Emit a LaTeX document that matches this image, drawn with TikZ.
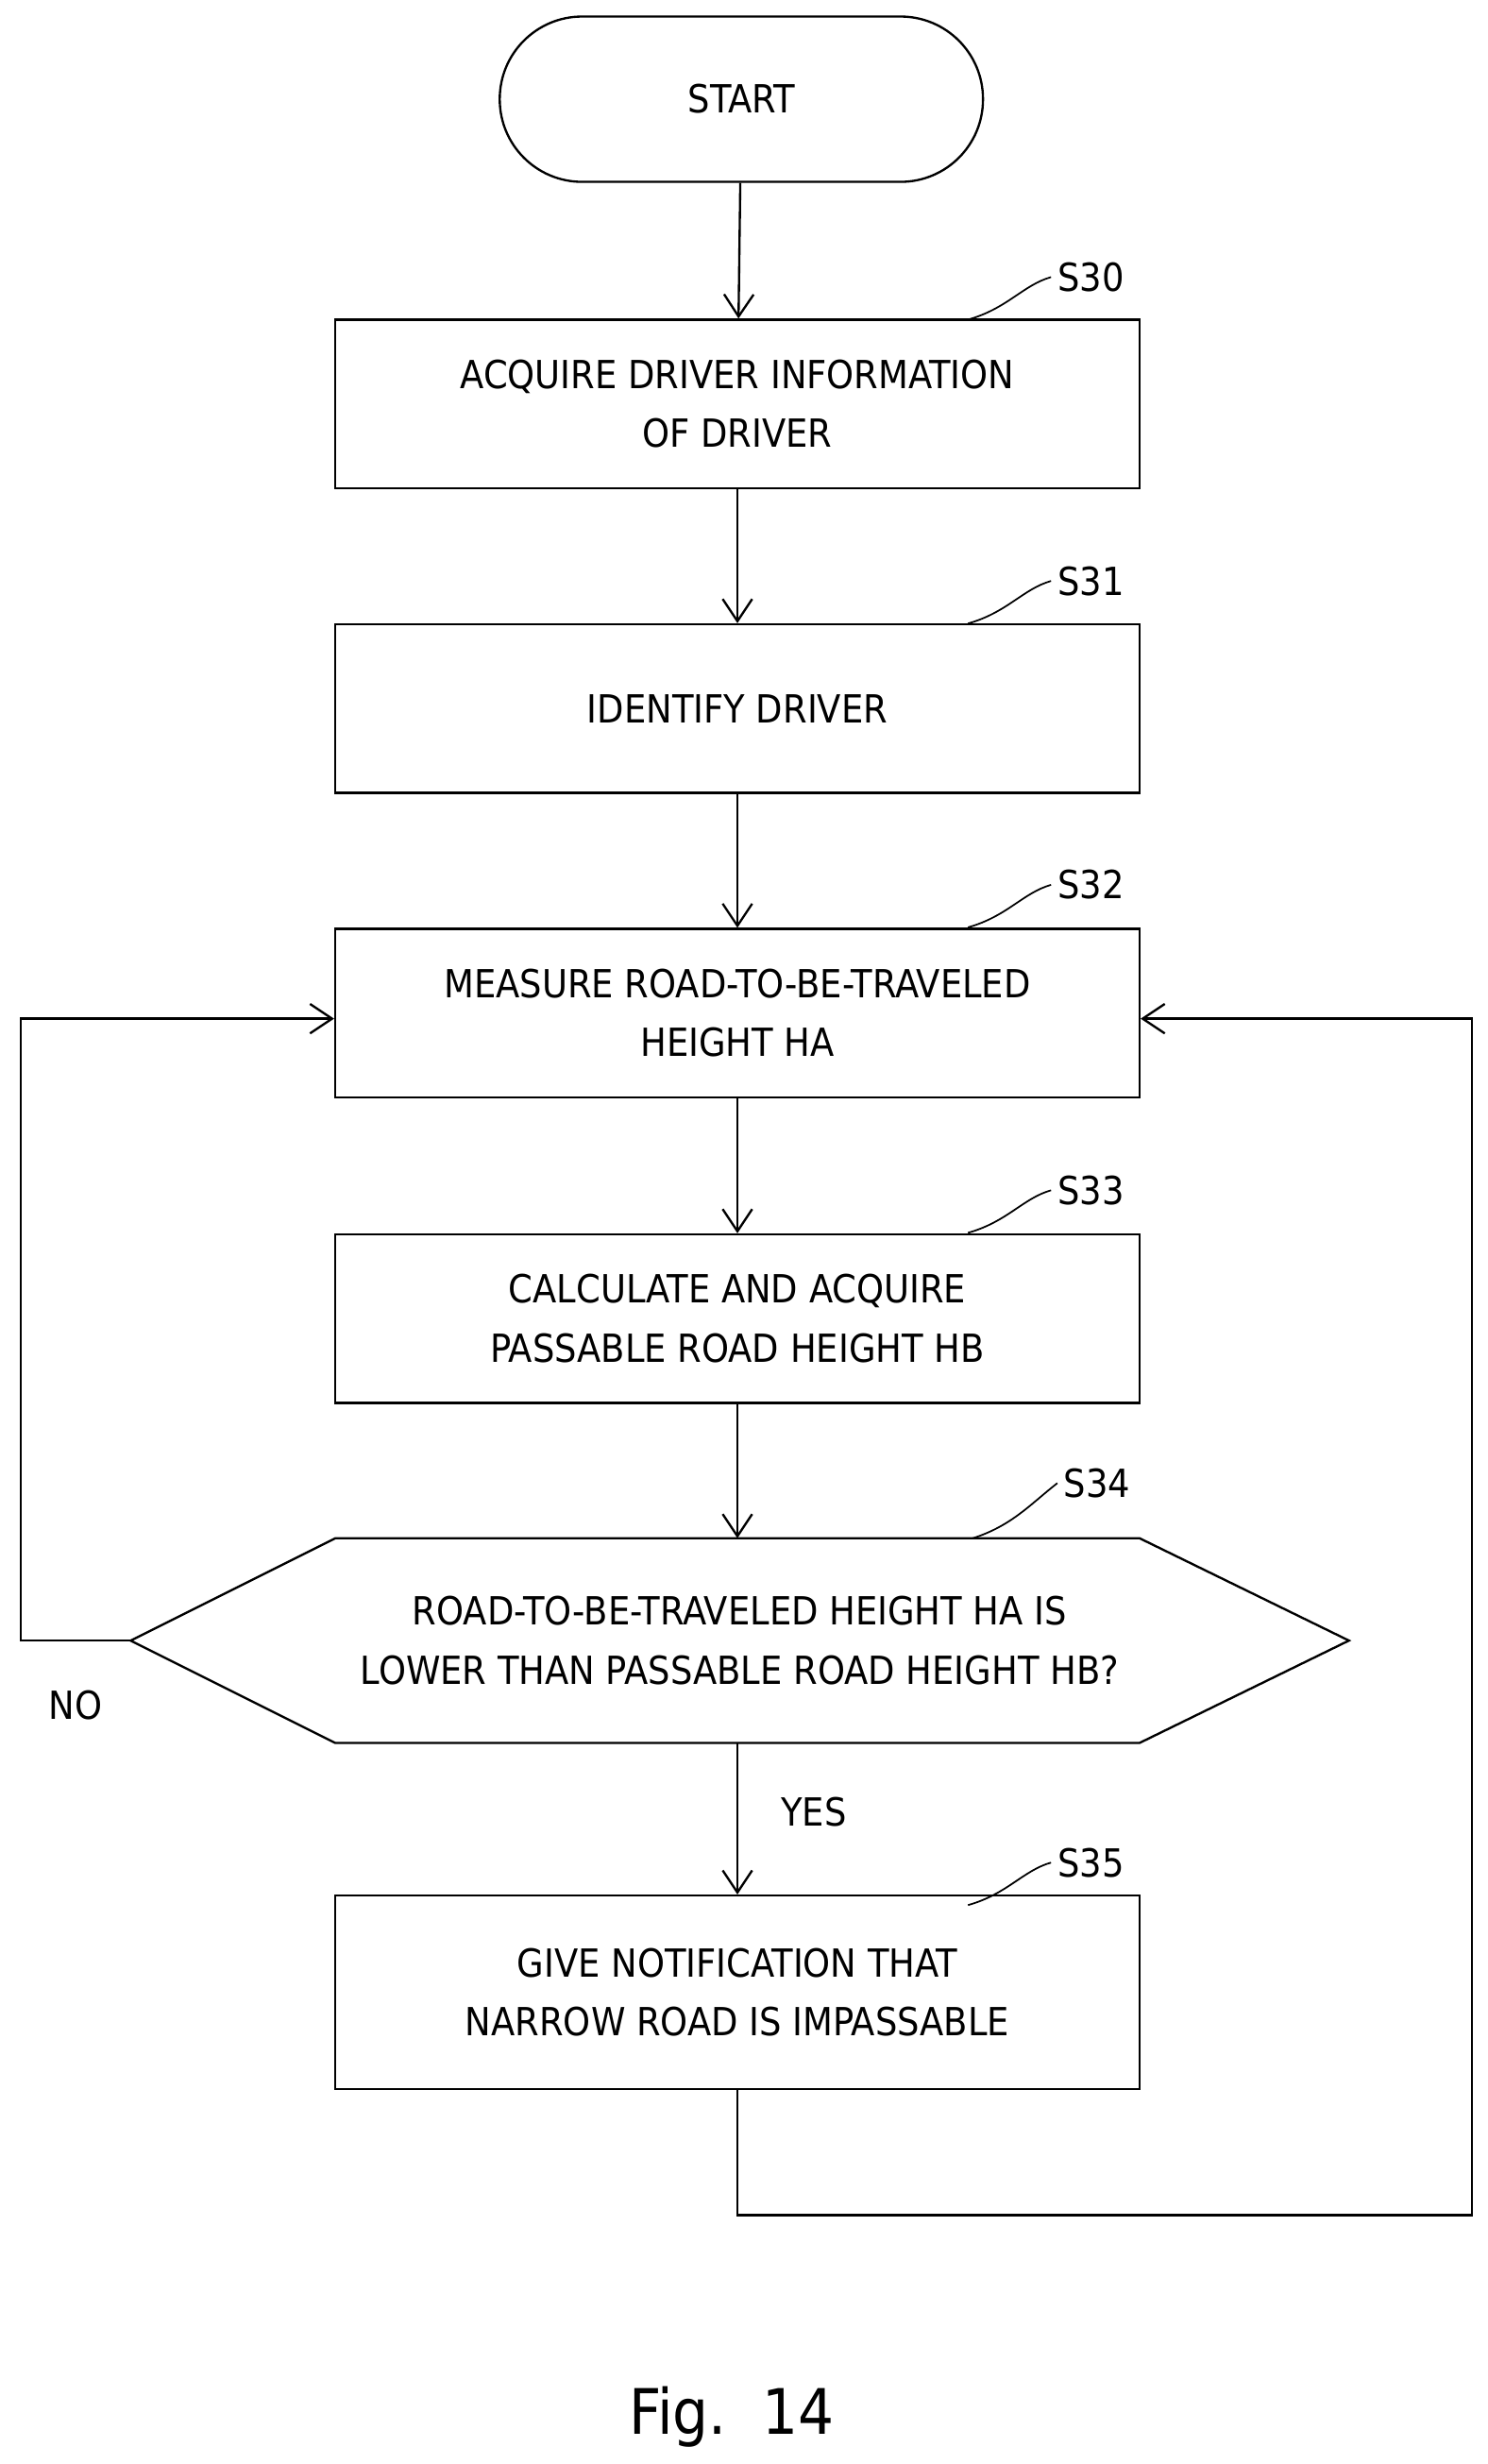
\documentclass[tikz,border=0pt]{standalone}
\usepackage{fontspec}
\setmainfont{DejaVu Sans Condensed}
\usetikzlibrary{arrows.meta}
\begin{document}
\begin{tikzpicture}[x=0.03cm,y=-0.03cm,
  box/.style={draw,line width=1.2pt,minimum width=15.33cm,minimum height=3.21cm,align=center,font=\fontsize{21}{32}\selectfont},
  lbl/.style={font=\fontsize{21}{26}\selectfont},
  arr/.style={line width=1.2pt,-{Straight Barb[length=12pt,width=16pt,line width=1.2pt]}},
  ln/.style={line width=1.2pt}]
\useasboundingbox (0,0) rectangle (945,1565);
\node[draw,line width=1.2pt,rounded corners=1.57cm,minimum width=9.21cm,minimum height=3.15cm,font=\fontsize{21}{26}\selectfont] (start) at (471,63) {START};
\node[box] (s30) at (468.5,256.5) {ACQUIRE DRIVER INFORMATION\\OF DRIVER};
\node[box] (s31) at (468.5,450) {IDENTIFY DRIVER};
\node[box] (s32) at (468.5,643.5) {MEASURE ROAD-TO-BE-TRAVELED\\HEIGHT HA};
\node[box] (s33) at (468.5,837.5) {CALCULATE AND ACQUIRE\\PASSABLE ROAD HEIGHT HB};
\coordinate (hl) at (83,1042);
\coordinate (hr) at (857,1042);
\coordinate (htl) at (213,977);
\coordinate (htr) at (724,977);
\coordinate (hbl) at (213,1107);
\coordinate (hbr) at (724,1107);
\coordinate (ht) at (468.5,977);
\coordinate (hb) at (468.5,1107);
\draw[ln] (hl)--(htl)--(htr)--(hr)--(hbr)--(hbl)--cycle;
\node[align=center,font=\fontsize{21}{32}\selectfont] (s34) at (470,1042) {ROAD-TO-BE-TRAVELED HEIGHT HA IS\\LOWER THAN PASSABLE ROAD HEIGHT HB?};
\node[box,minimum height=3.69cm] (s35) at (468.5,1265.5) {GIVE NOTIFICATION THAT\\NARROW ROAD IS IMPASSABLE};
\draw[arr] (start)--(s30);
\draw[arr] (s30)--(s31);
\draw[arr] (s31)--(s32);
\draw[arr] (s32)--(s33);
\draw[arr] (s33)--(ht);
\draw[arr] (hb)--(s35);
\coordinate (nl) at (13,1042);
\coordinate (nt) at (13,647);
\coordinate (lb) at (468.5,1407);
\coordinate (rb) at (935,1407);
\coordinate (rt) at (935,647);
\draw[arr] (hl)--(nl)--(nt)--(s32.west|-nt);
\draw[arr] (s35.south)--(lb)--(rb)--(rt)--(s32.east|-rt);
\node[lbl] (no) at (48,1083) {NO};
\node[lbl] (yes) at (517,1151) {YES};
\foreach \n/\y/\t in {s30/176/S30,s31/369/S31,s32/562/S32,s33/756/S33,s35/1183/S35}{
  \node[lbl] (l\n) at (693,\y) {\t};
  \draw[line width=0.9pt] (615,\y+27) .. controls (640,\y+20) and (650,\y+5) .. (l\n.west);
}
\node[lbl] (ls34) at (697,942) {S34};
\draw[line width=0.9pt] (618,977) .. controls (643,969) and (655,955) .. (ls34.west);
\node[font=\fontsize{34}{40}\selectfont] (fig) at (465,1535) {Fig.\ \ 14};
\end{tikzpicture}
\end{document}
